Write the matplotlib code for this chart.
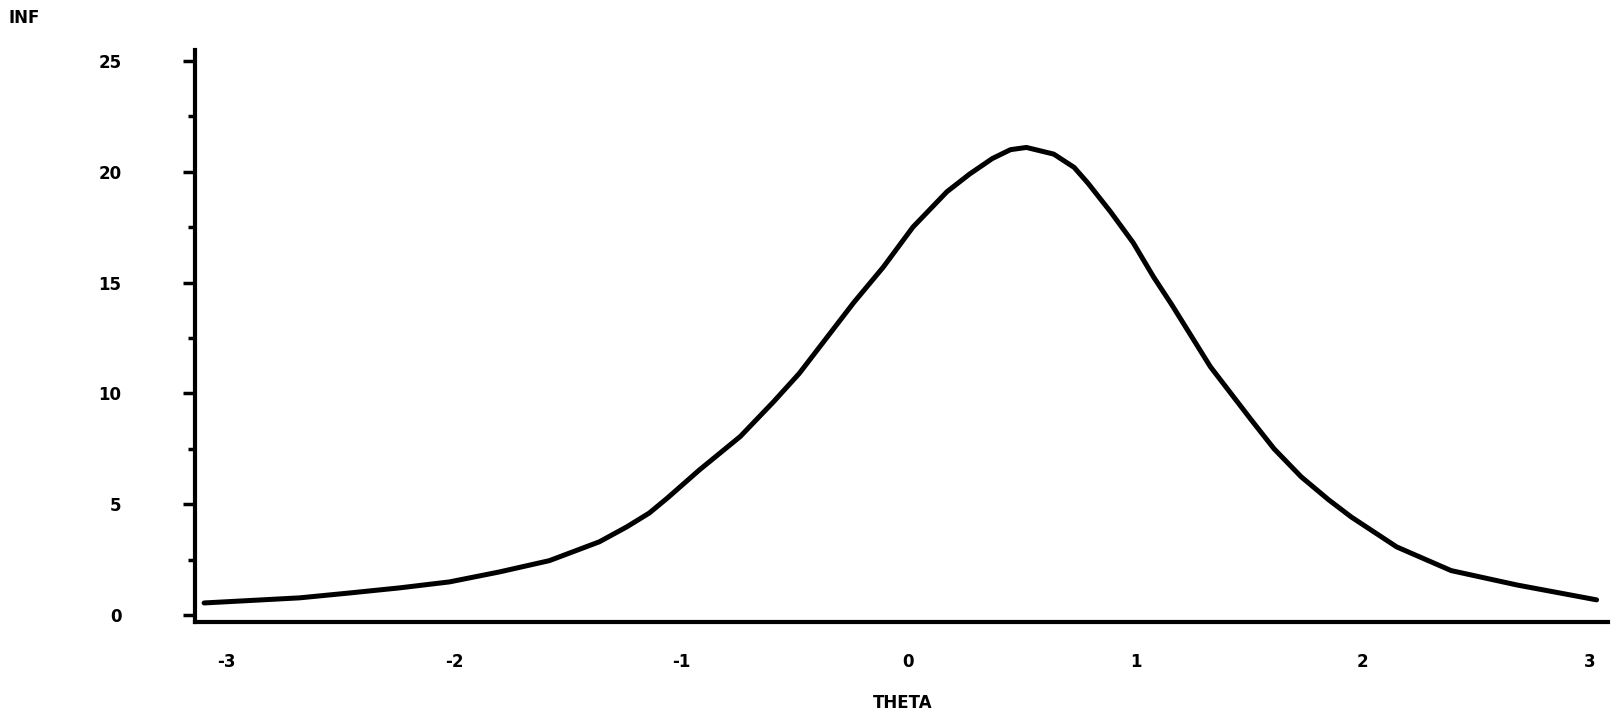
import numpy as np
import matplotlib
matplotlib.use('Agg')
import matplotlib.pyplot as plt

# information curve
theta = [-3.10, -2.68, -2.46, -2.24, -2.02, -1.80, -1.58, -1.36, -1.24, -1.14,
         -1.06, -0.92, -0.74, -0.595, -0.48, -0.24, -0.11, 0.02, 0.17, 0.27,
         0.37, 0.45, 0.52, 0.64, 0.73, 0.79, 0.89, 0.99, 1.08, 1.16,
         1.33, 1.51, 1.61, 1.73, 1.85, 1.95, 2.15, 2.39, 2.68, 3.03]
inf = [0.54, 0.77, 0.99, 1.22, 1.49, 1.94, 2.45, 3.3, 3.97, 4.6,
       5.28, 6.54, 8.05, 9.6, 10.9, 14.1, 15.7, 17.5, 19.1, 19.9,
       20.6, 21.0, 21.1, 20.8, 20.2, 19.5, 18.2, 16.8, 15.25, 14.0,
       11.2, 8.8, 7.5, 6.23, 5.2, 4.42, 3.07, 2.0, 1.35, 0.68]

xticks = [-3, -2, -1, 0, 1, 2, 3]
yticks = [0, 5, 10, 15, 20, 25]
yminor = [2.5, 7.5, 12.5, 17.5, 22.5]

plt.rcParams['font.family'] = ['DejaVu Sans']
plt.rcParams['font.weight'] = 'bold'

fig = plt.figure(figsize=(16.17, 7.21), dpi=100)
ax = fig.add_axes([0.1206, 0.1373, 0.8738, 0.7934])

ax.plot(theta, inf, color='black', linewidth=3.6, solid_capstyle='round',
        solid_joinstyle='round')

ax.set_xlim(-3.14, 3.08)
ax.set_ylim(-0.32, 25.5)

ax.spines['top'].set_visible(False)
ax.spines['right'].set_visible(False)
ax.spines['left'].set_linewidth(3)
ax.spines['bottom'].set_linewidth(3)

ax.set_xticks(xticks)
ax.set_xticklabels([str(t) for t in xticks])
ax.set_yticks(yticks)
ax.set_yticklabels([str(t) for t in yticks])
ax.set_yticks(yminor, minor=True)

ax.tick_params(axis='x', length=0, pad=22, labelsize=12)
ax.tick_params(axis='y', which='major', length=9, width=2.5, pad=44, labelsize=12)
ax.tick_params(axis='y', which='minor', length=5, width=2.5)

fig.text(0.005, 0.975, 'INF', fontsize=12, fontweight='bold', va='center', ha='left')
fig.text(0.558, 0.025, 'THETA', fontsize=12, fontweight='bold', va='center', ha='center')

fig.savefig('out.png', dpi=100, facecolor='white')
